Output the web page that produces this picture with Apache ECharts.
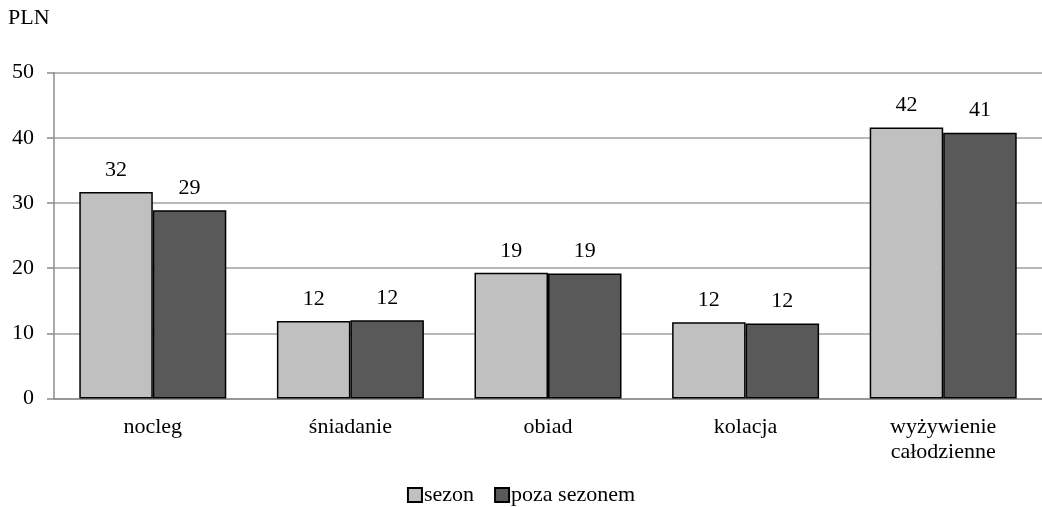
<!DOCTYPE html>
<html>
<head>
<meta charset="utf-8">
<script src="https://cdn.jsdelivr.net/npm/echarts@6/dist/echarts.min.js"></script>
<style>
  html, body { margin: 0; padding: 0; background: #fff; }
  #chart { width: 1042px; height: 507px; }
</style>
</head>
<body>
<div id="chart"></div>
<script>
// Average prices (PLN) for accommodation and meals, in season and off season
const categories = ['nocleg', 'śniadanie', 'obiad', 'kolacja', 'wyżywienie\ncałodzienne'];
const sezon = [31.7, 11.9, 19.3, 11.7, 41.6];
const pozaSezonem = [28.9, 12.0, 19.2, 11.5, 40.8];
const seriesNames = ['sezon', 'poza sezonem'];
const yTicks = { min: 0, max: 50, interval: 10 };

const FONT = '"Liberation Serif", "Times New Roman", serif';
const FS = 22;
const chart = echarts.init(document.getElementById('chart'), null, { renderer: 'canvas' });

const labelCfg = {
  show: true,
  position: 'top',
  distance: 11,
  color: '#000',
  fontFamily: FONT,
  fontSize: FS,
  formatter: p => Math.round(p.value)
};

chart.setOption({
  animation: false,
  backgroundColor: '#fff',
  textStyle: { fontFamily: FONT, color: '#000' },
  title: {
    text: 'PLN',
    left: 3,
    top: 2,
    textStyle: { fontFamily: FONT, fontSize: FS, fontWeight: 'normal', color: '#000' }
  },
  grid: { left: 54, right: 0, top: 72.7, bottom: 108.5, containLabel: false },
  legend: {
    data: seriesNames,
    top: 479,
    left: 'center',
    itemWidth: 14,
    itemHeight: 14,
    itemGap: 20,
    icon: 'rect',
    textStyle: { fontFamily: FONT, fontSize: FS, color: '#000', padding: [0, 0, 0, -3] }
  },
  xAxis: {
    type: 'category',
    data: categories,
    axisLine: { show: true, lineStyle: { color: '#8c8c8c', width: 1.5 } },
    axisTick: { show: false },
    axisLabel: { fontFamily: FONT, fontSize: FS, color: '#000', margin: 16, lineHeight: 25 }
  },
  yAxis: {
    type: 'value',
    min: yTicks.min,
    max: yTicks.max,
    interval: yTicks.interval,
    axisLine: { show: true, lineStyle: { color: '#8c8c8c', width: 1.5 } },
    axisTick: { show: true, length: 7, lineStyle: { color: '#8c8c8c', width: 1.5 } },
    axisLabel: { fontFamily: FONT, fontSize: FS, color: '#000', margin: 20 },
    splitLine: { show: true, lineStyle: { color: '#a0a0a0', width: 1.5 } }
  },
  series: [
    {
      name: seriesNames[0],
      type: 'bar',
      data: sezon,
      barWidth: 73.5,
      barGap: '0%',
      itemStyle: { color: '#c0c0c0', borderColor: '#000', borderWidth: 1.5 },
      label: labelCfg
    },
    {
      name: seriesNames[1],
      type: 'bar',
      data: pozaSezonem,
      barWidth: 73.5,
      itemStyle: { color: '#595959', borderColor: '#000', borderWidth: 1.5 },
      label: labelCfg
    }
  ]
});
</script>
</body>
</html>
